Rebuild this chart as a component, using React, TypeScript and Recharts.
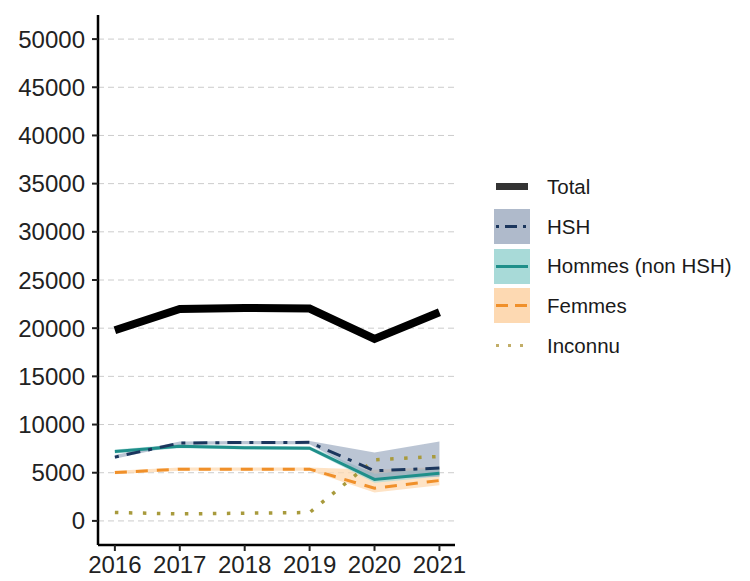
import React from "react"
import { ComposedChart, Line, Area, XAxis, YAxis, CartesianGrid } from "recharts"

const years = [2016, 2017, 2018, 2019, 2020, 2021]
const total = [19780, 22000, 22100, 22040, 18890, 21650]
const hsh = [6620, 8080, 8140, 8150, 5200, 5480]
const hshLow = [6450, 7900, 7950, 7950, 4300, 4600]
const hshHigh = [6850, 8250, 8300, 8300, 7100, 8250]
const hommes = [7200, 7750, 7600, 7550, 4300, 4950]
const hommesLow = [7000, 7550, 7400, 7350, 3950, 4600]
const hommesHigh = [7400, 7950, 7800, 7750, 4900, 5500]
const femmes = [5020, 5370, 5370, 5370, 3400, 4190]
const femmesLow = [4850, 5200, 5200, 5200, 2950, 3700]
const femmesHigh = [5200, 5550, 5550, 5550, 5300, 5600]
const inconnu = [870, 730, 800, 870, 6340, 6690]
const yTicks = [0, 5000, 10000, 15000, 20000, 25000, 30000, 35000, 40000, 45000, 50000]

const data = years.map((year, i) => ({
  year,
  total: total[i],
  hsh: hsh[i],
  hshBand: [hshLow[i], hshHigh[i]],
  hommes: hommes[i],
  hommesBand: [hommesLow[i], hommesHigh[i]],
  femmes: femmes[i],
  femmesBand: [femmesLow[i], femmesHigh[i]],
  inconnu: inconnu[i],
}))

const font = "'Liberation Sans', Arial, sans-serif"

const legendItems = [
  { label: "Total", color: "#333333", width: 7, dash: undefined, band: undefined },
  { label: "HSH", color: "#1B365D", width: 3, dash: "3 6 12 6", band: "#AFBACB" },
  { label: "Hommes (non HSH)", color: "#1F8F8A", width: 3, dash: undefined, band: "#A8DAD8" },
  { label: "Femmes", color: "#F0902A", width: 3, dash: "12 7", band: "#FDD9B2" },
  { label: "Inconnu", color: "#C2AE68", width: 3, dash: "3 9", band: undefined },
]

function ChartLegend() {
  return (
    <div style={{ position: "absolute", left: 494, top: 167, fontFamily: font }}>
      {legendItems.map((item) => (
        <div key={item.label} style={{ display: "flex", alignItems: "center", height: 39.7 }}>
          <svg width={36} height={35}>
            {item.band && <rect x={0} y={0} width={36} height={35} fill={item.band} />}
            <line
              x1={2}
              x2={34}
              y1={17.5}
              y2={17.5}
              stroke={item.color}
              strokeWidth={item.width}
              strokeDasharray={item.dash}
            />
          </svg>
          <span style={{ marginLeft: 17, fontSize: 20.5, color: "#1a1a1a" }}>{item.label}</span>
        </div>
      ))}
    </div>
  )
}

export default function App() {
  return (
    <div style={{ position: "absolute", left: 0, top: 0, width: 750, height: 581, background: "#fff" }}>
      <ComposedChart
        width={750}
        height={581}
        data={data}
        margin={{ top: 15, right: 295, bottom: 0, left: 0 }}
      >
        <CartesianGrid vertical={false} horizontalValues={yTicks} stroke="#cccccc" strokeDasharray="6 4" />
        <XAxis
          dataKey="year"
          type="number"
          domain={[2015.74, 2021.24]}
          ticks={years}
          height={36}
          tickSize={6}
          tickMargin={5}
          axisLine={{ stroke: "#000", strokeWidth: 2.5 }}
          tickLine={{ stroke: "#222", strokeWidth: 2 }}
          tick={{ fontSize: 24, fill: "#222", fontFamily: font }}
        />
        <YAxis
          type="number"
          domain={[-2500, 52500]}
          ticks={yTicks}
          width={98}
          tickSize={6}
          tickMargin={7}
          axisLine={{ stroke: "#000", strokeWidth: 2.5 }}
          tickLine={{ stroke: "#222", strokeWidth: 2 }}
          tick={{ fontSize: 24, fill: "#222", fontFamily: font }}
        />
        <Area dataKey="femmesBand" stroke="none" fill="#FDD9B2" fillOpacity={0.75} isAnimationActive={false} />
        <Area dataKey="hommesBand" stroke="none" fill="#A8DAD8" fillOpacity={0.7} isAnimationActive={false} />
        <Area dataKey="hshBand" stroke="none" fill="#8E9FB8" fillOpacity={0.6} isAnimationActive={false} />
        <Line dataKey="inconnu" stroke="#A89A3C" strokeWidth={3.5} strokeDasharray="3.5 10.5" dot={false} isAnimationActive={false} />
        <Line dataKey="femmes" stroke="#F0902A" strokeWidth={3} strokeDasharray="12 9" dot={false} isAnimationActive={false} />
        <Line dataKey="hommes" stroke="#1F8F8A" strokeWidth={3} dot={false} isAnimationActive={false} />
        <Line dataKey="hsh" stroke="#1B365D" strokeWidth={3} strokeDasharray="4 8 14 8" dot={false} isAnimationActive={false} />
        <Line dataKey="total" stroke="#000000" strokeWidth={8} dot={false} isAnimationActive={false} />
      </ComposedChart>
      <ChartLegend />
    </div>
  )
}
